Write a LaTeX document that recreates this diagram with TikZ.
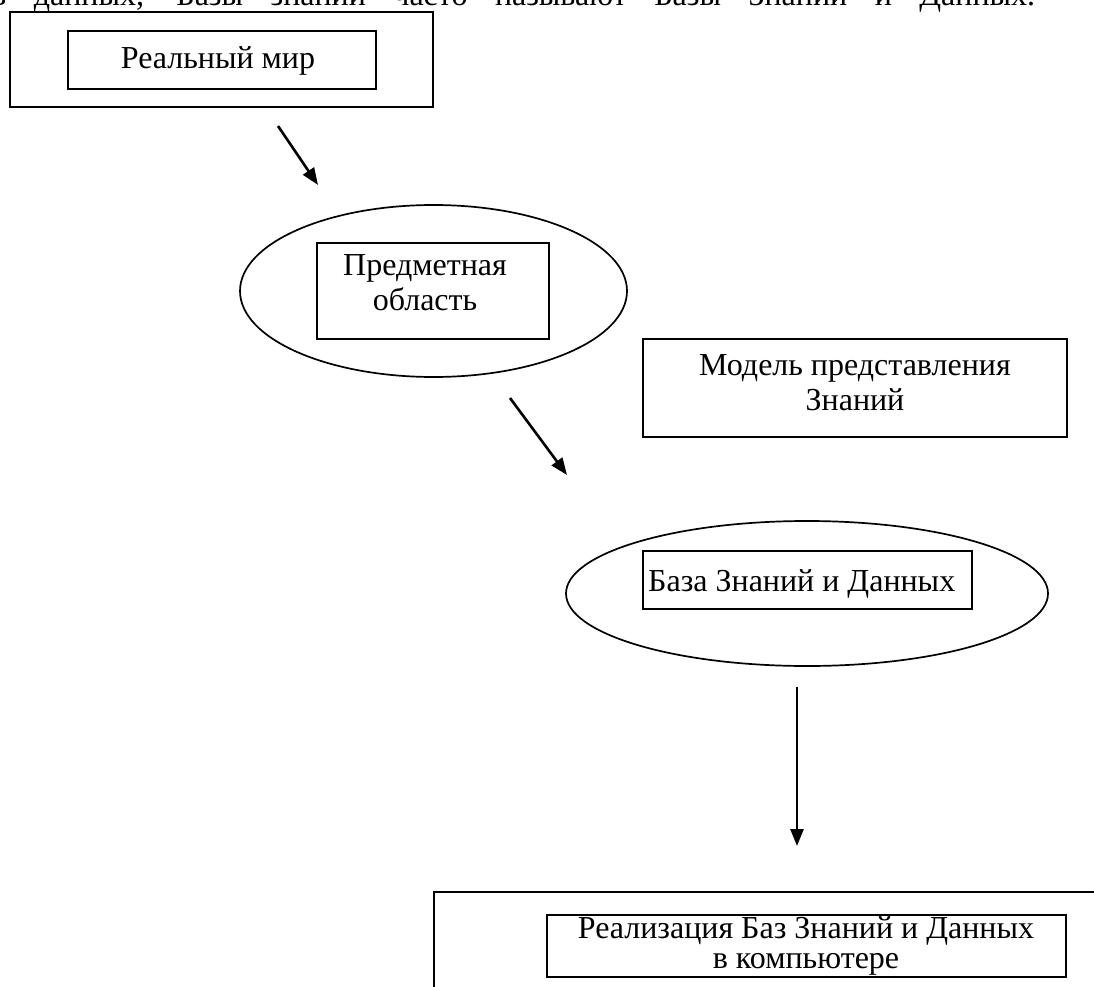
\documentclass[tikz,border=0pt]{standalone}
\usepackage{fontspec}
\setmainfont{Liberation Serif}
\usetikzlibrary{arrows.meta,shapes.geometric}

\begin{document}
\begin{tikzpicture}[x=1pt,y=-1pt,
  frame/.style={draw,line width=2.2pt,rectangle,inner sep=0pt},
  oval/.style={draw,line width=1.7pt,ellipse,inner sep=0pt},
  lbl/.style={font=\fontsize{32}{35}\selectfont,align=center,inner sep=0pt},
  flow/.style={line width=2.6pt,-{Triangle[length=17pt,width=13pt]}}]
\useasboundingbox (0,0) rectangle (1094,987);
\clip (0,0) rectangle (1094,987);

% trailing line of the preceding (justified) paragraph
\node[lbl,anchor=base west] (intro) at (-9,6)
  {\makebox[1044pt][s]{в данных, Базы знаний часто называют Базы Знаний и Данных.}};

% real world
\node[frame,minimum width=423pt,minimum height=95pt] (worldout) at (221.5,59.5) {};
\node[frame,minimum width=308pt,minimum height=58pt] (worldin) at (222,60) {};
\node[lbl,anchor=base] (worldtxt) at (218,69) {Реальный мир};

% subject domain (multi-line labels are placed by their last baseline)
\node[oval,minimum width=387pt,minimum height=172pt] (domain) at (433.5,291) {};
\node[frame,minimum width=232pt,minimum height=96pt] (domainbox) at (433,291) {};
\node[lbl,anchor=base] (domaintxt) at (425,310) {Предметная\\область};

% knowledge representation model
\node[frame,minimum width=424pt,minimum height=98pt] (model) at (855,388) {};
\node[lbl,anchor=base] (modeltxt) at (855,410) {Модель представления\\Знаний};

% knowledge and data base
\node[oval,minimum width=482pt,minimum height=145pt] (kb) at (807,593.5) {};
\node[frame,minimum width=329pt,minimum height=58pt] (kbbox) at (807.5,580) {};
\node[lbl,anchor=base west] (kbtxt) at (648,591) {База Знаний и Данных};

% implementation
\node[frame,anchor=north west,minimum width=720pt,minimum height=160pt] (implout) at (433,891) {};
\node[frame,minimum width=519pt,minimum height=62pt] (implin) at (806.5,946) {};
\node[lbl,anchor=base,font=\fontsize{32}{30}\selectfont] (impltxt) at (806,968)
  {Реализация Баз Знаний и Данных\\в компьютере};

% arrows
\coordinate (a1s) at (278,126);
\coordinate (a1e) at (318,185);
\coordinate (a2s) at (510,398);
\coordinate (a2e) at (567,475);
\coordinate (a3s) at (797,687);
\coordinate (a3e) at (797,846);
\draw[flow] (a1s) -- (a1e);
\draw[flow] (a2s) -- (a2e);
\draw[flow] (a3s) -- (a3e);
\end{tikzpicture}
\end{document}
